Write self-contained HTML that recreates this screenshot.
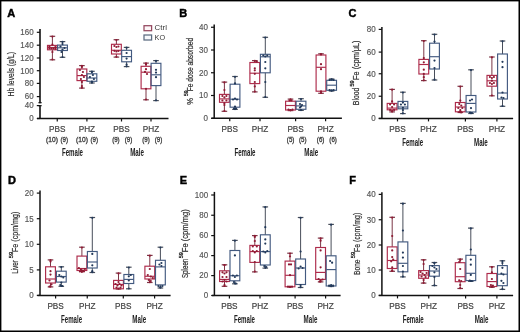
<!DOCTYPE html><html><head><meta charset="utf-8"><style>html,body{margin:0;padding:0;background:#fff;}body{width:520px;height:332px;overflow:hidden;}svg{display:block;will-change:transform;}text{font-family:"Liberation Sans", sans-serif;}</style></head><body>
<svg width="520" height="332" viewBox="0 0 520 332">
<rect x="0" y="0" width="520" height="332" fill="#ffffff"/>
<g><text x="7.2" y="17.2" font-size="11" font-weight="bold" fill="#000" stroke="#000" stroke-width="0.45">A</text><line x1="40" y1="29" x2="40" y2="103.2" stroke="#111111" stroke-width="1.6"/><line x1="40" y1="105.2" x2="40" y2="118.5" stroke="#111111" stroke-width="1.6"/><line x1="38.4" y1="102.7" x2="41.7" y2="102.7" stroke="#111111" stroke-width="1.1"/><line x1="38.4" y1="105.7" x2="41.7" y2="105.7" stroke="#111111" stroke-width="1.1"/><line x1="36.8" y1="32.3" x2="40" y2="32.3" stroke="#111111" stroke-width="1.2"/><text x="33.7" y="35.15" font-size="8.2" fill="#555555" stroke="#555" stroke-width="0.15" text-anchor="end" textLength="13.35" lengthAdjust="spacingAndGlyphs">160</text><line x1="36.8" y1="45.2" x2="40" y2="45.2" stroke="#111111" stroke-width="1.2"/><text x="33.7" y="48.05" font-size="8.2" fill="#555555" stroke="#555" stroke-width="0.15" text-anchor="end" textLength="13.35" lengthAdjust="spacingAndGlyphs">140</text><line x1="36.8" y1="58" x2="40" y2="58" stroke="#111111" stroke-width="1.2"/><text x="33.7" y="60.85" font-size="8.2" fill="#555555" stroke="#555" stroke-width="0.15" text-anchor="end" textLength="13.35" lengthAdjust="spacingAndGlyphs">120</text><line x1="36.8" y1="70.7" x2="40" y2="70.7" stroke="#111111" stroke-width="1.2"/><text x="33.7" y="73.55" font-size="8.2" fill="#555555" stroke="#555" stroke-width="0.15" text-anchor="end" textLength="13.35" lengthAdjust="spacingAndGlyphs">100</text><line x1="36.8" y1="83.4" x2="40" y2="83.4" stroke="#111111" stroke-width="1.2"/><text x="33.7" y="86.25" font-size="8.2" fill="#555555" stroke="#555" stroke-width="0.15" text-anchor="end" textLength="8.9" lengthAdjust="spacingAndGlyphs">80</text><line x1="36.8" y1="96.6" x2="40" y2="96.6" stroke="#111111" stroke-width="1.2"/><text x="33.7" y="99.45" font-size="8.2" fill="#555555" stroke="#555" stroke-width="0.15" text-anchor="end" textLength="8.9" lengthAdjust="spacingAndGlyphs">60</text><line x1="36.8" y1="105.6" x2="40" y2="105.6" stroke="#111111" stroke-width="1.2"/><text x="33.7" y="108.45" font-size="8.2" fill="#555555" stroke="#555" stroke-width="0.15" text-anchor="end" textLength="8.9" lengthAdjust="spacingAndGlyphs">40</text><line x1="36.8" y1="118.5" x2="40" y2="118.5" stroke="#111111" stroke-width="1.2"/><text x="33.7" y="121.35" font-size="8.2" fill="#555555" stroke="#555" stroke-width="0.15" text-anchor="end" textLength="4.45" lengthAdjust="spacingAndGlyphs">0</text><line x1="37" y1="118.5" x2="168.5" y2="118.5" stroke="#111111" stroke-width="1.5"/><line x1="57.25" y1="118.5" x2="57.25" y2="121.5" stroke="#111111" stroke-width="1.2"/><text x="57.25" y="131.9" font-size="8.6" fill="#4a4a4a" stroke="#3a3a3a" stroke-width="0.22" text-anchor="middle" textLength="16.4" lengthAdjust="spacingAndGlyphs">PBS</text><line x1="86.9" y1="118.5" x2="86.9" y2="121.5" stroke="#111111" stroke-width="1.2"/><text x="86.9" y="131.9" font-size="8.6" fill="#4a4a4a" stroke="#3a3a3a" stroke-width="0.22" text-anchor="middle" textLength="16.4" lengthAdjust="spacingAndGlyphs">PHZ</text><line x1="121.5" y1="118.5" x2="121.5" y2="121.5" stroke="#111111" stroke-width="1.2"/><text x="121.5" y="131.9" font-size="8.6" fill="#4a4a4a" stroke="#3a3a3a" stroke-width="0.22" text-anchor="middle" textLength="16.4" lengthAdjust="spacingAndGlyphs">PBS</text><line x1="151" y1="118.5" x2="151" y2="121.5" stroke="#111111" stroke-width="1.2"/><text x="151" y="131.9" font-size="8.6" fill="#4a4a4a" stroke="#3a3a3a" stroke-width="0.22" text-anchor="middle" textLength="16.4" lengthAdjust="spacingAndGlyphs">PHZ</text><text x="52" y="142" font-size="6.5" fill="#4a4a4a" stroke="#3a3a3a" stroke-width="0.32" text-anchor="middle" textLength="11.8" lengthAdjust="spacingAndGlyphs">(10)</text><text x="64.3" y="142" font-size="6.5" fill="#4a4a4a" stroke="#3a3a3a" stroke-width="0.32" text-anchor="middle" textLength="7.5" lengthAdjust="spacingAndGlyphs">(9)</text><text x="82" y="142" font-size="6.5" fill="#4a4a4a" stroke="#3a3a3a" stroke-width="0.32" text-anchor="middle" textLength="11.8" lengthAdjust="spacingAndGlyphs">(10)</text><text x="94.3" y="142" font-size="6.5" fill="#4a4a4a" stroke="#3a3a3a" stroke-width="0.32" text-anchor="middle" textLength="7.5" lengthAdjust="spacingAndGlyphs">(9)</text><text x="115.9" y="142" font-size="6.5" fill="#4a4a4a" stroke="#3a3a3a" stroke-width="0.32" text-anchor="middle" textLength="7.5" lengthAdjust="spacingAndGlyphs">(9)</text><text x="128.5" y="142" font-size="6.5" fill="#4a4a4a" stroke="#3a3a3a" stroke-width="0.32" text-anchor="middle" textLength="7.5" lengthAdjust="spacingAndGlyphs">(9)</text><text x="146" y="142" font-size="6.5" fill="#4a4a4a" stroke="#3a3a3a" stroke-width="0.32" text-anchor="middle" textLength="7.5" lengthAdjust="spacingAndGlyphs">(9)</text><text x="158.5" y="142" font-size="6.5" fill="#4a4a4a" stroke="#3a3a3a" stroke-width="0.32" text-anchor="middle" textLength="7.5" lengthAdjust="spacingAndGlyphs">(9)</text><text x="72.5" y="155.6" font-size="10" font-weight="bold" fill="#222" text-anchor="middle" textLength="21" lengthAdjust="spacingAndGlyphs">Female</text><text x="137.1" y="155.6" font-size="10" font-weight="bold" fill="#222" text-anchor="middle" textLength="13.8" lengthAdjust="spacingAndGlyphs">Male</text><text transform="matrix(0 -0.72 1 0 14 96.46)" font-size="9.6" fill="#2c2c2c" stroke="#2c2c2c" stroke-width="0.2">Hb levels (g/L)</text></g>
<g><text x="179.2" y="16.9" font-size="11" font-weight="bold" fill="#000" stroke="#000" stroke-width="0.45">B</text><line x1="214.2" y1="24.4" x2="214.2" y2="118.3" stroke="#111111" stroke-width="1.5"/><line x1="211" y1="27.25" x2="214.2" y2="27.25" stroke="#111111" stroke-width="1.2"/><text x="207.9" y="30.1" font-size="8.2" fill="#555555" stroke="#555" stroke-width="0.15" text-anchor="end" textLength="8.9" lengthAdjust="spacingAndGlyphs">40</text><line x1="211" y1="50" x2="214.2" y2="50" stroke="#111111" stroke-width="1.2"/><text x="207.9" y="52.85" font-size="8.2" fill="#555555" stroke="#555" stroke-width="0.15" text-anchor="end" textLength="8.9" lengthAdjust="spacingAndGlyphs">30</text><line x1="211" y1="72.75" x2="214.2" y2="72.75" stroke="#111111" stroke-width="1.2"/><text x="207.9" y="75.6" font-size="8.2" fill="#555555" stroke="#555" stroke-width="0.15" text-anchor="end" textLength="8.9" lengthAdjust="spacingAndGlyphs">20</text><line x1="211" y1="95.5" x2="214.2" y2="95.5" stroke="#111111" stroke-width="1.2"/><text x="207.9" y="98.35" font-size="8.2" fill="#555555" stroke="#555" stroke-width="0.15" text-anchor="end" textLength="8.9" lengthAdjust="spacingAndGlyphs">10</text><line x1="211" y1="118.3" x2="214.2" y2="118.3" stroke="#111111" stroke-width="1.2"/><text x="207.9" y="121.15" font-size="8.2" fill="#555555" stroke="#555" stroke-width="0.15" text-anchor="end" textLength="4.45" lengthAdjust="spacingAndGlyphs">0</text><line x1="211.5" y1="118.3" x2="341.9" y2="118.3" stroke="#111111" stroke-width="1.5"/><line x1="229.75" y1="118.3" x2="229.75" y2="121.3" stroke="#111111" stroke-width="1.2"/><text x="229.75" y="131.7" font-size="8.6" fill="#4a4a4a" stroke="#3a3a3a" stroke-width="0.22" text-anchor="middle" textLength="16.4" lengthAdjust="spacingAndGlyphs">PBS</text><line x1="260" y1="118.3" x2="260" y2="121.3" stroke="#111111" stroke-width="1.2"/><text x="260" y="131.7" font-size="8.6" fill="#4a4a4a" stroke="#3a3a3a" stroke-width="0.22" text-anchor="middle" textLength="16.4" lengthAdjust="spacingAndGlyphs">PHZ</text><line x1="295.6" y1="118.3" x2="295.6" y2="121.3" stroke="#111111" stroke-width="1.2"/><text x="295.6" y="131.7" font-size="8.6" fill="#4a4a4a" stroke="#3a3a3a" stroke-width="0.22" text-anchor="middle" textLength="16.4" lengthAdjust="spacingAndGlyphs">PBS</text><line x1="325.6" y1="118.3" x2="325.6" y2="121.3" stroke="#111111" stroke-width="1.2"/><text x="325.6" y="131.7" font-size="8.6" fill="#4a4a4a" stroke="#3a3a3a" stroke-width="0.22" text-anchor="middle" textLength="16.4" lengthAdjust="spacingAndGlyphs">PHZ</text><text x="290.6" y="141.8" font-size="6.5" fill="#4a4a4a" stroke="#3a3a3a" stroke-width="0.32" text-anchor="middle" textLength="7.5" lengthAdjust="spacingAndGlyphs">(5)</text><text x="302.8" y="141.8" font-size="6.5" fill="#4a4a4a" stroke="#3a3a3a" stroke-width="0.32" text-anchor="middle" textLength="7.5" lengthAdjust="spacingAndGlyphs">(5)</text><text x="320.6" y="141.8" font-size="6.5" fill="#4a4a4a" stroke="#3a3a3a" stroke-width="0.32" text-anchor="middle" textLength="7.5" lengthAdjust="spacingAndGlyphs">(6)</text><text x="333.1" y="141.8" font-size="6.5" fill="#4a4a4a" stroke="#3a3a3a" stroke-width="0.32" text-anchor="middle" textLength="7.5" lengthAdjust="spacingAndGlyphs">(6)</text><text x="245" y="155.5" font-size="10" font-weight="bold" fill="#222" text-anchor="middle" textLength="21" lengthAdjust="spacingAndGlyphs">Female</text><text x="311.25" y="155.5" font-size="10" font-weight="bold" fill="#222" text-anchor="middle" textLength="13.8" lengthAdjust="spacingAndGlyphs">Male</text><text transform="matrix(0 -0.8 1 0 192.5 104.87)" font-size="9.6" fill="#2c2c2c" stroke="#2c2c2c" stroke-width="0.2">%</text><text transform="matrix(0 -1.1 1 0 187.5 95.9)" font-size="4.44" fill="#2c2c2c" stroke="#2c2c2c" stroke-width="0.3">59</text><text transform="matrix(0 -0.69 1 0 192.5 91.24)" font-size="9.6" fill="#2c2c2c" stroke="#2c2c2c" stroke-width="0.2">Fe dose absorbed</text></g>
<g><text x="348.6" y="16.9" font-size="11" font-weight="bold" fill="#000" stroke="#000" stroke-width="0.45">C</text><line x1="381.9" y1="26.9" x2="381.9" y2="118.4" stroke="#111111" stroke-width="1.5"/><line x1="378.7" y1="29.4" x2="381.9" y2="29.4" stroke="#111111" stroke-width="1.2"/><text x="375.6" y="32.25" font-size="8.2" fill="#555555" stroke="#555" stroke-width="0.15" text-anchor="end" textLength="8.9" lengthAdjust="spacingAndGlyphs">80</text><line x1="378.7" y1="52.1" x2="381.9" y2="52.1" stroke="#111111" stroke-width="1.2"/><text x="375.6" y="54.95" font-size="8.2" fill="#555555" stroke="#555" stroke-width="0.15" text-anchor="end" textLength="8.9" lengthAdjust="spacingAndGlyphs">60</text><line x1="378.7" y1="73.75" x2="381.9" y2="73.75" stroke="#111111" stroke-width="1.2"/><text x="375.6" y="76.6" font-size="8.2" fill="#555555" stroke="#555" stroke-width="0.15" text-anchor="end" textLength="8.9" lengthAdjust="spacingAndGlyphs">40</text><line x1="378.7" y1="96.25" x2="381.9" y2="96.25" stroke="#111111" stroke-width="1.2"/><text x="375.6" y="99.1" font-size="8.2" fill="#555555" stroke="#555" stroke-width="0.15" text-anchor="end" textLength="8.9" lengthAdjust="spacingAndGlyphs">20</text><line x1="378.7" y1="118.4" x2="381.9" y2="118.4" stroke="#111111" stroke-width="1.2"/><text x="375.6" y="121.25" font-size="8.2" fill="#555555" stroke="#555" stroke-width="0.15" text-anchor="end" textLength="4.45" lengthAdjust="spacingAndGlyphs">0</text><line x1="378.75" y1="118.4" x2="513.1" y2="118.4" stroke="#111111" stroke-width="1.5"/><line x1="397.5" y1="118.4" x2="397.5" y2="121.4" stroke="#111111" stroke-width="1.2"/><text x="397.5" y="131.8" font-size="8.6" fill="#4a4a4a" stroke="#3a3a3a" stroke-width="0.22" text-anchor="middle" textLength="16.4" lengthAdjust="spacingAndGlyphs">PBS</text><line x1="428.5" y1="118.4" x2="428.5" y2="121.4" stroke="#111111" stroke-width="1.2"/><text x="428.5" y="131.8" font-size="8.6" fill="#4a4a4a" stroke="#3a3a3a" stroke-width="0.22" text-anchor="middle" textLength="16.4" lengthAdjust="spacingAndGlyphs">PHZ</text><line x1="465.4" y1="118.4" x2="465.4" y2="121.4" stroke="#111111" stroke-width="1.2"/><text x="465.4" y="131.8" font-size="8.6" fill="#4a4a4a" stroke="#3a3a3a" stroke-width="0.22" text-anchor="middle" textLength="16.4" lengthAdjust="spacingAndGlyphs">PBS</text><line x1="496.9" y1="118.4" x2="496.9" y2="121.4" stroke="#111111" stroke-width="1.2"/><text x="496.9" y="131.8" font-size="8.6" fill="#4a4a4a" stroke="#3a3a3a" stroke-width="0.22" text-anchor="middle" textLength="16.4" lengthAdjust="spacingAndGlyphs">PHZ</text><text x="412.7" y="145.6" font-size="10" font-weight="bold" fill="#222" text-anchor="middle" textLength="21" lengthAdjust="spacingAndGlyphs">Female</text><text x="480.9" y="145.6" font-size="10" font-weight="bold" fill="#222" text-anchor="middle" textLength="13.8" lengthAdjust="spacingAndGlyphs">Male</text><text transform="matrix(0 -0.71 1 0 359.3 105.16)" font-size="9.6" fill="#2c2c2c" stroke="#2c2c2c" stroke-width="0.2">Blood</text><text transform="matrix(0 -1.24 1 0 354.3 86.47)" font-size="4.44" fill="#2c2c2c" stroke="#2c2c2c" stroke-width="0.3">59</text><text transform="matrix(0 -0.76 1 0 359.3 79.9)" font-size="9.6" fill="#2c2c2c" stroke="#2c2c2c" stroke-width="0.2">Fe (cpm/μL)</text></g>
<g><text x="8" y="183.7" font-size="11" font-weight="bold" fill="#000" stroke="#000" stroke-width="0.45">D</text><line x1="40" y1="190.6" x2="40" y2="295.4" stroke="#111111" stroke-width="1.5"/><line x1="36.8" y1="193.1" x2="40" y2="193.1" stroke="#111111" stroke-width="1.2"/><text x="33.7" y="195.95" font-size="8.2" fill="#555555" stroke="#555" stroke-width="0.15" text-anchor="end" textLength="8.9" lengthAdjust="spacingAndGlyphs">20</text><line x1="36.8" y1="218.7" x2="40" y2="218.7" stroke="#111111" stroke-width="1.2"/><text x="33.7" y="221.55" font-size="8.2" fill="#555555" stroke="#555" stroke-width="0.15" text-anchor="end" textLength="8.9" lengthAdjust="spacingAndGlyphs">15</text><line x1="36.8" y1="244.3" x2="40" y2="244.3" stroke="#111111" stroke-width="1.2"/><text x="33.7" y="247.15" font-size="8.2" fill="#555555" stroke="#555" stroke-width="0.15" text-anchor="end" textLength="8.9" lengthAdjust="spacingAndGlyphs">10</text><line x1="36.8" y1="269.9" x2="40" y2="269.9" stroke="#111111" stroke-width="1.2"/><text x="33.7" y="272.75" font-size="8.2" fill="#555555" stroke="#555" stroke-width="0.15" text-anchor="end" textLength="4.45" lengthAdjust="spacingAndGlyphs">5</text><line x1="36.8" y1="295.4" x2="40" y2="295.4" stroke="#111111" stroke-width="1.2"/><text x="33.7" y="298.25" font-size="8.2" fill="#555555" stroke="#555" stroke-width="0.15" text-anchor="end" textLength="4.45" lengthAdjust="spacingAndGlyphs">0</text><line x1="37.5" y1="295.4" x2="170.6" y2="295.4" stroke="#111111" stroke-width="1.5"/><line x1="55.6" y1="295.4" x2="55.6" y2="298.4" stroke="#111111" stroke-width="1.2"/><text x="55.6" y="308.8" font-size="8.6" fill="#4a4a4a" stroke="#3a3a3a" stroke-width="0.22" text-anchor="middle" textLength="16.4" lengthAdjust="spacingAndGlyphs">PBS</text><line x1="87.25" y1="295.4" x2="87.25" y2="298.4" stroke="#111111" stroke-width="1.2"/><text x="87.25" y="308.8" font-size="8.6" fill="#4a4a4a" stroke="#3a3a3a" stroke-width="0.22" text-anchor="middle" textLength="16.4" lengthAdjust="spacingAndGlyphs">PHZ</text><line x1="123.3" y1="295.4" x2="123.3" y2="298.4" stroke="#111111" stroke-width="1.2"/><text x="123.3" y="308.8" font-size="8.6" fill="#4a4a4a" stroke="#3a3a3a" stroke-width="0.22" text-anchor="middle" textLength="16.4" lengthAdjust="spacingAndGlyphs">PBS</text><line x1="154.6" y1="295.4" x2="154.6" y2="298.4" stroke="#111111" stroke-width="1.2"/><text x="154.6" y="308.8" font-size="8.6" fill="#4a4a4a" stroke="#3a3a3a" stroke-width="0.22" text-anchor="middle" textLength="16.4" lengthAdjust="spacingAndGlyphs">PHZ</text><text x="71.6" y="323.2" font-size="10" font-weight="bold" fill="#222" text-anchor="middle" textLength="21" lengthAdjust="spacingAndGlyphs">Female</text><text x="139.25" y="323.2" font-size="10" font-weight="bold" fill="#222" text-anchor="middle" textLength="13.8" lengthAdjust="spacingAndGlyphs">Male</text><text transform="matrix(0 -0.66 1 0 18.4 273.82)" font-size="9.6" fill="#2c2c2c" stroke="#2c2c2c" stroke-width="0.2">Liver</text><text transform="matrix(0 -1.27 1 0 13.4 258.23)" font-size="4.44" fill="#2c2c2c" stroke="#2c2c2c" stroke-width="0.3">59</text><text transform="matrix(0 -0.74 1 0 18.4 251.98)" font-size="9.6" fill="#2c2c2c" stroke="#2c2c2c" stroke-width="0.2">Fe (cpm/mg)</text></g>
<g><text x="179.8" y="183.7" font-size="11" font-weight="bold" fill="#000" stroke="#000" stroke-width="0.45">E</text><line x1="214.4" y1="191.9" x2="214.4" y2="295.5" stroke="#111111" stroke-width="1.5"/><line x1="211.2" y1="195" x2="214.4" y2="195" stroke="#111111" stroke-width="1.2"/><text x="208.1" y="197.85" font-size="8.2" fill="#555555" stroke="#555" stroke-width="0.15" text-anchor="end" textLength="13.35" lengthAdjust="spacingAndGlyphs">100</text><line x1="211.2" y1="215.25" x2="214.4" y2="215.25" stroke="#111111" stroke-width="1.2"/><text x="208.1" y="218.1" font-size="8.2" fill="#555555" stroke="#555" stroke-width="0.15" text-anchor="end" textLength="8.9" lengthAdjust="spacingAndGlyphs">80</text><line x1="211.2" y1="235.6" x2="214.4" y2="235.6" stroke="#111111" stroke-width="1.2"/><text x="208.1" y="238.45" font-size="8.2" fill="#555555" stroke="#555" stroke-width="0.15" text-anchor="end" textLength="8.9" lengthAdjust="spacingAndGlyphs">60</text><line x1="211.2" y1="255.6" x2="214.4" y2="255.6" stroke="#111111" stroke-width="1.2"/><text x="208.1" y="258.45" font-size="8.2" fill="#555555" stroke="#555" stroke-width="0.15" text-anchor="end" textLength="8.9" lengthAdjust="spacingAndGlyphs">40</text><line x1="211.2" y1="275.6" x2="214.4" y2="275.6" stroke="#111111" stroke-width="1.2"/><text x="208.1" y="278.45" font-size="8.2" fill="#555555" stroke="#555" stroke-width="0.15" text-anchor="end" textLength="8.9" lengthAdjust="spacingAndGlyphs">20</text><line x1="211.2" y1="295.5" x2="214.4" y2="295.5" stroke="#111111" stroke-width="1.2"/><text x="208.1" y="298.35" font-size="8.2" fill="#555555" stroke="#555" stroke-width="0.15" text-anchor="end" textLength="4.45" lengthAdjust="spacingAndGlyphs">0</text><line x1="211.9" y1="295.5" x2="340.6" y2="295.5" stroke="#111111" stroke-width="1.5"/><line x1="229.4" y1="295.5" x2="229.4" y2="298.5" stroke="#111111" stroke-width="1.2"/><text x="229.4" y="308.9" font-size="8.6" fill="#4a4a4a" stroke="#3a3a3a" stroke-width="0.22" text-anchor="middle" textLength="16.4" lengthAdjust="spacingAndGlyphs">PBS</text><line x1="260" y1="295.5" x2="260" y2="298.5" stroke="#111111" stroke-width="1.2"/><text x="260" y="308.9" font-size="8.6" fill="#4a4a4a" stroke="#3a3a3a" stroke-width="0.22" text-anchor="middle" textLength="16.4" lengthAdjust="spacingAndGlyphs">PHZ</text><line x1="295.1" y1="295.5" x2="295.1" y2="298.5" stroke="#111111" stroke-width="1.2"/><text x="295.1" y="308.9" font-size="8.6" fill="#4a4a4a" stroke="#3a3a3a" stroke-width="0.22" text-anchor="middle" textLength="16.4" lengthAdjust="spacingAndGlyphs">PBS</text><line x1="325.6" y1="295.5" x2="325.6" y2="298.5" stroke="#111111" stroke-width="1.2"/><text x="325.6" y="308.9" font-size="8.6" fill="#4a4a4a" stroke="#3a3a3a" stroke-width="0.22" text-anchor="middle" textLength="16.4" lengthAdjust="spacingAndGlyphs">PHZ</text><text x="244.5" y="323.2" font-size="10" font-weight="bold" fill="#222" text-anchor="middle" textLength="21" lengthAdjust="spacingAndGlyphs">Female</text><text x="310.5" y="323.2" font-size="10" font-weight="bold" fill="#222" text-anchor="middle" textLength="13.8" lengthAdjust="spacingAndGlyphs">Male</text><text transform="matrix(0 -0.65 1 0 187.8 278.08)" font-size="9.6" fill="#2c2c2c" stroke="#2c2c2c" stroke-width="0.2">Spleen</text><text transform="matrix(0 -1.23 1 0 182.8 258.22)" font-size="4.44" fill="#2c2c2c" stroke="#2c2c2c" stroke-width="0.3">59</text><text transform="matrix(0 -0.79 1 0 187.8 252.22)" font-size="9.6" fill="#2c2c2c" stroke="#2c2c2c" stroke-width="0.2">Fe (cpm/mg)</text></g>
<g><text x="349.2" y="183.7" font-size="11" font-weight="bold" fill="#000" stroke="#000" stroke-width="0.45">F</text><line x1="381.9" y1="192.25" x2="381.9" y2="295.4" stroke="#111111" stroke-width="1.5"/><line x1="378.7" y1="194.4" x2="381.9" y2="194.4" stroke="#111111" stroke-width="1.2"/><text x="375.6" y="197.25" font-size="8.2" fill="#555555" stroke="#555" stroke-width="0.15" text-anchor="end" textLength="8.9" lengthAdjust="spacingAndGlyphs">40</text><line x1="378.7" y1="219.75" x2="381.9" y2="219.75" stroke="#111111" stroke-width="1.2"/><text x="375.6" y="222.6" font-size="8.2" fill="#555555" stroke="#555" stroke-width="0.15" text-anchor="end" textLength="8.9" lengthAdjust="spacingAndGlyphs">30</text><line x1="378.7" y1="245" x2="381.9" y2="245" stroke="#111111" stroke-width="1.2"/><text x="375.6" y="247.85" font-size="8.2" fill="#555555" stroke="#555" stroke-width="0.15" text-anchor="end" textLength="8.9" lengthAdjust="spacingAndGlyphs">20</text><line x1="378.7" y1="270" x2="381.9" y2="270" stroke="#111111" stroke-width="1.2"/><text x="375.6" y="272.85" font-size="8.2" fill="#555555" stroke="#555" stroke-width="0.15" text-anchor="end" textLength="8.9" lengthAdjust="spacingAndGlyphs">10</text><line x1="378.7" y1="295.4" x2="381.9" y2="295.4" stroke="#111111" stroke-width="1.2"/><text x="375.6" y="298.25" font-size="8.2" fill="#555555" stroke="#555" stroke-width="0.15" text-anchor="end" textLength="4.45" lengthAdjust="spacingAndGlyphs">0</text><line x1="378.75" y1="295.4" x2="513.1" y2="295.4" stroke="#111111" stroke-width="1.5"/><line x1="397.5" y1="295.4" x2="397.5" y2="298.4" stroke="#111111" stroke-width="1.2"/><text x="397.5" y="308.8" font-size="8.6" fill="#4a4a4a" stroke="#3a3a3a" stroke-width="0.22" text-anchor="middle" textLength="16.4" lengthAdjust="spacingAndGlyphs">PBS</text><line x1="428.75" y1="295.4" x2="428.75" y2="298.4" stroke="#111111" stroke-width="1.2"/><text x="428.75" y="308.8" font-size="8.6" fill="#4a4a4a" stroke="#3a3a3a" stroke-width="0.22" text-anchor="middle" textLength="16.4" lengthAdjust="spacingAndGlyphs">PHZ</text><line x1="465.6" y1="295.4" x2="465.6" y2="298.4" stroke="#111111" stroke-width="1.2"/><text x="465.6" y="308.8" font-size="8.6" fill="#4a4a4a" stroke="#3a3a3a" stroke-width="0.22" text-anchor="middle" textLength="16.4" lengthAdjust="spacingAndGlyphs">PBS</text><line x1="496.9" y1="295.4" x2="496.9" y2="298.4" stroke="#111111" stroke-width="1.2"/><text x="496.9" y="308.8" font-size="8.6" fill="#4a4a4a" stroke="#3a3a3a" stroke-width="0.22" text-anchor="middle" textLength="16.4" lengthAdjust="spacingAndGlyphs">PHZ</text><text x="413.25" y="323.2" font-size="10" font-weight="bold" fill="#222" text-anchor="middle" textLength="21" lengthAdjust="spacingAndGlyphs">Female</text><text x="481.6" y="323.2" font-size="10" font-weight="bold" fill="#222" text-anchor="middle" textLength="13.8" lengthAdjust="spacingAndGlyphs">Male</text><text transform="matrix(0 -0.69 1 0 359.7 274.94)" font-size="9.6" fill="#2c2c2c" stroke="#2c2c2c" stroke-width="0.2">Bone</text><text transform="matrix(0 -1.27 1 0 354.7 258.23)" font-size="4.44" fill="#2c2c2c" stroke="#2c2c2c" stroke-width="0.3">59</text><text transform="matrix(0 -0.72 1 0 359.7 251.97)" font-size="9.6" fill="#2c2c2c" stroke="#2c2c2c" stroke-width="0.2">Fe (cpm/mg)</text></g>
<rect x="144.0" y="25.7" width="7.6" height="5.0" fill="#fdf6f8" stroke="#94485f" stroke-width="1.25"/>
<rect x="144.0" y="35.0" width="7.6" height="5.0" fill="#f6f8fb" stroke="#5c6c80" stroke-width="1.25"/>
<text x="154.6" y="30.0" font-size="7.4" fill="#383838" textLength="12.3" lengthAdjust="spacingAndGlyphs">Ctrl</text>
<text x="154.6" y="39.5" font-size="7.4" fill="#383838" textLength="10.5" lengthAdjust="spacingAndGlyphs">KO</text>
<g><line x1="52.4" y1="36.3" x2="52.4" y2="45.4" stroke="#7c3646" stroke-width="1.0"/><line x1="52.4" y1="49.8" x2="52.4" y2="59.8" stroke="#7c3646" stroke-width="1.0"/><line x1="49.6" y1="36.3" x2="55.2" y2="36.3" stroke="#7c3646" stroke-width="1.2"/><line x1="49.6" y1="59.8" x2="55.2" y2="59.8" stroke="#7c3646" stroke-width="1.2"/><rect x="47.5" y="45.4" width="9.8" height="4.4" fill="none" stroke="#ad2a4a" stroke-width="1.15"/><line x1="47.5" y1="47.5" x2="57.3" y2="47.5" stroke="#ad2a4a" stroke-width="1.15"/><circle cx="52.4" cy="44.5" r="1.1" fill="#8f1a33"/><circle cx="49.4" cy="46.5" r="1.1" fill="#8f1a33"/><circle cx="55.4" cy="47" r="1.1" fill="#8f1a33"/><circle cx="51.4" cy="48.5" r="1.1" fill="#8f1a33"/><circle cx="53.4" cy="48.5" r="1.1" fill="#8f1a33"/><circle cx="49.4" cy="48.5" r="1.1" fill="#8f1a33"/><circle cx="55.4" cy="48.8" r="1.1" fill="#8f1a33"/><circle cx="52.4" cy="52" r="1.1" fill="#8f1a33"/><circle cx="52.4" cy="36.6" r="1.1" fill="#8f1a33"/><circle cx="52.4" cy="59.5" r="1.1" fill="#8f1a33"/></g>
<g><line x1="62.5" y1="41.6" x2="62.5" y2="45.1" stroke="#484e5a" stroke-width="1.0"/><line x1="62.5" y1="50.5" x2="62.5" y2="57.3" stroke="#484e5a" stroke-width="1.0"/><line x1="59.7" y1="41.6" x2="65.3" y2="41.6" stroke="#484e5a" stroke-width="1.2"/><line x1="59.7" y1="57.3" x2="65.3" y2="57.3" stroke="#484e5a" stroke-width="1.2"/><rect x="57.6" y="45.1" width="9.8" height="5.4" fill="none" stroke="#435a80" stroke-width="1.15"/><line x1="57.6" y1="47.8" x2="67.4" y2="47.8" stroke="#435a80" stroke-width="1.15"/><circle cx="62.5" cy="44" r="1.1" fill="#22395a"/><circle cx="60.5" cy="46.5" r="1.1" fill="#22395a"/><circle cx="64.5" cy="48" r="1.1" fill="#22395a"/><circle cx="62.5" cy="49.5" r="1.1" fill="#22395a"/><circle cx="61.5" cy="52" r="1.1" fill="#22395a"/><circle cx="62.5" cy="41.9" r="1.1" fill="#22395a"/><circle cx="62.5" cy="57" r="1.1" fill="#22395a"/></g>
<g><line x1="81.9" y1="65.6" x2="81.9" y2="69" stroke="#7c3646" stroke-width="1.0"/><line x1="81.9" y1="80.6" x2="81.9" y2="88.1" stroke="#7c3646" stroke-width="1.0"/><line x1="79.1" y1="65.6" x2="84.7" y2="65.6" stroke="#7c3646" stroke-width="1.2"/><line x1="79.1" y1="88.1" x2="84.7" y2="88.1" stroke="#7c3646" stroke-width="1.2"/><rect x="77" y="69" width="9.8" height="11.6" fill="none" stroke="#ad2a4a" stroke-width="1.15"/><line x1="77" y1="75.6" x2="86.8" y2="75.6" stroke="#ad2a4a" stroke-width="1.15"/><circle cx="81.9" cy="67" r="1.1" fill="#8f1a33"/><circle cx="79.9" cy="70" r="1.1" fill="#8f1a33"/><circle cx="82.9" cy="72" r="1.1" fill="#8f1a33"/><circle cx="81.9" cy="75" r="1.1" fill="#8f1a33"/><circle cx="83.9" cy="77" r="1.1" fill="#8f1a33"/><circle cx="80.9" cy="79" r="1.1" fill="#8f1a33"/><circle cx="81.9" cy="82" r="1.1" fill="#8f1a33"/><circle cx="81.9" cy="86" r="1.1" fill="#8f1a33"/><circle cx="81.9" cy="65.9" r="1.1" fill="#8f1a33"/><circle cx="81.9" cy="87.8" r="1.1" fill="#8f1a33"/></g>
<g><line x1="91.9" y1="71.3" x2="91.9" y2="73.8" stroke="#484e5a" stroke-width="1.0"/><line x1="91.9" y1="81.3" x2="91.9" y2="83" stroke="#484e5a" stroke-width="1.0"/><line x1="89.1" y1="71.3" x2="94.7" y2="71.3" stroke="#484e5a" stroke-width="1.2"/><line x1="89.1" y1="83" x2="94.7" y2="83" stroke="#484e5a" stroke-width="1.2"/><rect x="87" y="73.8" width="9.8" height="7.5" fill="none" stroke="#435a80" stroke-width="1.15"/><line x1="87" y1="78" x2="96.8" y2="78" stroke="#435a80" stroke-width="1.15"/><circle cx="91.9" cy="72" r="1.1" fill="#22395a"/><circle cx="92.9" cy="75" r="1.1" fill="#22395a"/><circle cx="89.9" cy="77" r="1.1" fill="#22395a"/><circle cx="93.9" cy="79" r="1.1" fill="#22395a"/><circle cx="91.9" cy="81.5" r="1.1" fill="#22395a"/><circle cx="91.9" cy="71.6" r="1.1" fill="#22395a"/><circle cx="91.9" cy="82.7" r="1.1" fill="#22395a"/></g>
<g><line x1="116.4" y1="39.7" x2="116.4" y2="44.3" stroke="#7c3646" stroke-width="1.0"/><line x1="116.4" y1="54" x2="116.4" y2="57.1" stroke="#7c3646" stroke-width="1.0"/><line x1="113.6" y1="39.7" x2="119.2" y2="39.7" stroke="#7c3646" stroke-width="1.2"/><line x1="113.6" y1="57.1" x2="119.2" y2="57.1" stroke="#7c3646" stroke-width="1.2"/><rect x="111.5" y="44.3" width="9.8" height="9.7" fill="none" stroke="#ad2a4a" stroke-width="1.15"/><line x1="111.5" y1="50.3" x2="121.3" y2="50.3" stroke="#ad2a4a" stroke-width="1.15"/><circle cx="114.4" cy="46" r="1.1" fill="#8f1a33"/><circle cx="116.4" cy="47" r="1.1" fill="#8f1a33"/><circle cx="118.4" cy="46.5" r="1.1" fill="#8f1a33"/><circle cx="114.4" cy="50.8" r="1.1" fill="#8f1a33"/><circle cx="116.4" cy="51.5" r="1.1" fill="#8f1a33"/><circle cx="118.4" cy="51" r="1.1" fill="#8f1a33"/><circle cx="116.4" cy="40" r="1.1" fill="#8f1a33"/><circle cx="116.4" cy="56.8" r="1.1" fill="#8f1a33"/></g>
<g><line x1="126.6" y1="47.4" x2="126.6" y2="50.3" stroke="#484e5a" stroke-width="1.0"/><line x1="126.6" y1="61.8" x2="126.6" y2="66.6" stroke="#484e5a" stroke-width="1.0"/><line x1="123.8" y1="47.4" x2="129.4" y2="47.4" stroke="#484e5a" stroke-width="1.2"/><line x1="123.8" y1="66.6" x2="129.4" y2="66.6" stroke="#484e5a" stroke-width="1.2"/><rect x="121.7" y="50.3" width="9.8" height="11.5" fill="none" stroke="#435a80" stroke-width="1.15"/><line x1="121.7" y1="56.6" x2="131.5" y2="56.6" stroke="#435a80" stroke-width="1.15"/><circle cx="126.6" cy="53" r="1.1" fill="#22395a"/><circle cx="126.6" cy="58.6" r="1.1" fill="#22395a"/><circle cx="126.6" cy="64.5" r="1.1" fill="#22395a"/><circle cx="126.6" cy="47.7" r="1.1" fill="#22395a"/><circle cx="126.6" cy="66.3" r="1.1" fill="#22395a"/></g>
<g><line x1="146" y1="63.1" x2="146" y2="66.3" stroke="#7c3646" stroke-width="1.0"/><line x1="146" y1="88.8" x2="146" y2="99.8" stroke="#7c3646" stroke-width="1.0"/><line x1="143.2" y1="63.1" x2="148.8" y2="63.1" stroke="#7c3646" stroke-width="1.2"/><line x1="143.2" y1="99.8" x2="148.8" y2="99.8" stroke="#7c3646" stroke-width="1.2"/><rect x="141.1" y="66.3" width="9.8" height="22.5" fill="none" stroke="#ad2a4a" stroke-width="1.15"/><line x1="141.1" y1="72.2" x2="150.9" y2="72.2" stroke="#ad2a4a" stroke-width="1.15"/><circle cx="146" cy="64.5" r="1.1" fill="#8f1a33"/><circle cx="146" cy="69.2" r="1.1" fill="#8f1a33"/><circle cx="145" cy="71.9" r="1.1" fill="#8f1a33"/><circle cx="147" cy="74" r="1.1" fill="#8f1a33"/><circle cx="146" cy="88.8" r="1.1" fill="#8f1a33"/><circle cx="146" cy="63.4" r="1.1" fill="#8f1a33"/><circle cx="146" cy="99.5" r="1.1" fill="#8f1a33"/></g>
<g><line x1="156" y1="60.6" x2="156" y2="63.3" stroke="#484e5a" stroke-width="1.0"/><line x1="156" y1="85.6" x2="156" y2="100.6" stroke="#484e5a" stroke-width="1.0"/><line x1="153.2" y1="60.6" x2="158.8" y2="60.6" stroke="#484e5a" stroke-width="1.2"/><line x1="153.2" y1="100.6" x2="158.8" y2="100.6" stroke="#484e5a" stroke-width="1.2"/><rect x="151.1" y="63.3" width="9.8" height="22.3" fill="none" stroke="#435a80" stroke-width="1.15"/><line x1="151.1" y1="74.8" x2="160.9" y2="74.8" stroke="#435a80" stroke-width="1.15"/><circle cx="156" cy="69.8" r="1.1" fill="#22395a"/><circle cx="156" cy="72.6" r="1.1" fill="#22395a"/><circle cx="156" cy="77.2" r="1.1" fill="#22395a"/><circle cx="156" cy="60.9" r="1.1" fill="#22395a"/><circle cx="156" cy="100.3" r="1.1" fill="#22395a"/></g>
<g><line x1="224.4" y1="82.1" x2="224.4" y2="94.4" stroke="#7c3646" stroke-width="1.0"/><line x1="224.4" y1="102.3" x2="224.4" y2="111.3" stroke="#7c3646" stroke-width="1.0"/><line x1="221.6" y1="82.1" x2="227.2" y2="82.1" stroke="#7c3646" stroke-width="1.2"/><line x1="221.6" y1="111.3" x2="227.2" y2="111.3" stroke="#7c3646" stroke-width="1.2"/><rect x="219.5" y="94.4" width="9.8" height="7.9" fill="none" stroke="#ad2a4a" stroke-width="1.15"/><line x1="219.5" y1="98.9" x2="229.3" y2="98.9" stroke="#ad2a4a" stroke-width="1.15"/><circle cx="224.4" cy="90" r="1.1" fill="#8f1a33"/><circle cx="222.4" cy="96" r="1.1" fill="#8f1a33"/><circle cx="224.4" cy="97.3" r="1.1" fill="#8f1a33"/><circle cx="226.4" cy="96" r="1.1" fill="#8f1a33"/><circle cx="222.4" cy="100.5" r="1.1" fill="#8f1a33"/><circle cx="226.4" cy="100.5" r="1.1" fill="#8f1a33"/><circle cx="224.4" cy="103.3" r="1.1" fill="#8f1a33"/><circle cx="224.4" cy="105" r="1.1" fill="#8f1a33"/><circle cx="224.4" cy="82.4" r="1.1" fill="#8f1a33"/><circle cx="224.4" cy="111" r="1.1" fill="#8f1a33"/></g>
<g><line x1="235" y1="76.5" x2="235" y2="84.2" stroke="#484e5a" stroke-width="1.0"/><line x1="235" y1="107.2" x2="235" y2="109.4" stroke="#484e5a" stroke-width="1.0"/><line x1="232.2" y1="76.5" x2="237.8" y2="76.5" stroke="#484e5a" stroke-width="1.2"/><line x1="232.2" y1="109.4" x2="237.8" y2="109.4" stroke="#484e5a" stroke-width="1.2"/><rect x="230.1" y="84.2" width="9.8" height="23" fill="none" stroke="#435a80" stroke-width="1.15"/><line x1="230.1" y1="99.2" x2="239.9" y2="99.2" stroke="#435a80" stroke-width="1.15"/><circle cx="235" cy="83.4" r="1.1" fill="#22395a"/><circle cx="233" cy="99.5" r="1.1" fill="#22395a"/><circle cx="235" cy="98.5" r="1.1" fill="#22395a"/><circle cx="237" cy="99.5" r="1.1" fill="#22395a"/><circle cx="235" cy="106.6" r="1.1" fill="#22395a"/><circle cx="236" cy="108.5" r="1.1" fill="#22395a"/><circle cx="234" cy="108.5" r="1.1" fill="#22395a"/><circle cx="235" cy="76.8" r="1.1" fill="#22395a"/><circle cx="235" cy="109.1" r="1.1" fill="#22395a"/></g>
<g><line x1="254.8" y1="60.6" x2="254.8" y2="62.5" stroke="#7c3646" stroke-width="1.0"/><line x1="254.8" y1="83.6" x2="254.8" y2="91.9" stroke="#7c3646" stroke-width="1.0"/><line x1="252" y1="60.6" x2="257.6" y2="60.6" stroke="#7c3646" stroke-width="1.2"/><line x1="252" y1="91.9" x2="257.6" y2="91.9" stroke="#7c3646" stroke-width="1.2"/><rect x="249.9" y="62.5" width="9.8" height="21.1" fill="none" stroke="#ad2a4a" stroke-width="1.15"/><line x1="249.9" y1="73.2" x2="259.7" y2="73.2" stroke="#ad2a4a" stroke-width="1.15"/><circle cx="256.8" cy="61.5" r="1.1" fill="#8f1a33"/><circle cx="254.8" cy="68.3" r="1.1" fill="#8f1a33"/><circle cx="254.8" cy="70.3" r="1.1" fill="#8f1a33"/><circle cx="254.8" cy="73.8" r="1.1" fill="#8f1a33"/><circle cx="254.8" cy="82" r="1.1" fill="#8f1a33"/><circle cx="254.8" cy="86.4" r="1.1" fill="#8f1a33"/><circle cx="254.8" cy="60.9" r="1.1" fill="#8f1a33"/><circle cx="254.8" cy="91.6" r="1.1" fill="#8f1a33"/></g>
<g><line x1="265.3" y1="37.3" x2="265.3" y2="54.3" stroke="#484e5a" stroke-width="1.0"/><line x1="265.3" y1="72.8" x2="265.3" y2="97.3" stroke="#484e5a" stroke-width="1.0"/><line x1="262.5" y1="37.3" x2="268.1" y2="37.3" stroke="#484e5a" stroke-width="1.2"/><line x1="262.5" y1="97.3" x2="268.1" y2="97.3" stroke="#484e5a" stroke-width="1.2"/><rect x="260.4" y="54.3" width="9.8" height="18.5" fill="none" stroke="#435a80" stroke-width="1.15"/><line x1="260.4" y1="56.8" x2="270.2" y2="56.8" stroke="#435a80" stroke-width="1.15"/><circle cx="263.3" cy="55.5" r="1.1" fill="#22395a"/><circle cx="265.3" cy="56.5" r="1.1" fill="#22395a"/><circle cx="267.3" cy="55.5" r="1.1" fill="#22395a"/><circle cx="265.3" cy="62" r="1.1" fill="#22395a"/><circle cx="265.3" cy="68.3" r="1.1" fill="#22395a"/><circle cx="265.3" cy="82" r="1.1" fill="#22395a"/><circle cx="265.3" cy="37.6" r="1.1" fill="#22395a"/><circle cx="265.3" cy="97" r="1.1" fill="#22395a"/></g>
<g><line x1="290.5" y1="99.1" x2="290.5" y2="101.2" stroke="#7c3646" stroke-width="1.0"/><line x1="290.5" y1="110" x2="290.5" y2="110.6" stroke="#7c3646" stroke-width="1.0"/><line x1="287.7" y1="99.1" x2="293.3" y2="99.1" stroke="#7c3646" stroke-width="1.2"/><line x1="287.7" y1="110.6" x2="293.3" y2="110.6" stroke="#7c3646" stroke-width="1.2"/><rect x="285.6" y="101.2" width="9.8" height="8.8" fill="none" stroke="#ad2a4a" stroke-width="1.15"/><line x1="285.6" y1="105.5" x2="295.4" y2="105.5" stroke="#ad2a4a" stroke-width="1.15"/><circle cx="289.5" cy="100.5" r="1.1" fill="#8f1a33"/><circle cx="291.5" cy="100.5" r="1.1" fill="#8f1a33"/><circle cx="288.5" cy="109.5" r="1.1" fill="#8f1a33"/><circle cx="290.5" cy="110" r="1.1" fill="#8f1a33"/><circle cx="292.5" cy="109.5" r="1.1" fill="#8f1a33"/><circle cx="290.5" cy="99.4" r="1.1" fill="#8f1a33"/><circle cx="290.5" cy="110.3" r="1.1" fill="#8f1a33"/></g>
<g><line x1="301" y1="98.7" x2="301" y2="101.2" stroke="#484e5a" stroke-width="1.0"/><line x1="301" y1="109.3" x2="301" y2="110.4" stroke="#484e5a" stroke-width="1.0"/><line x1="298.2" y1="98.7" x2="303.8" y2="98.7" stroke="#484e5a" stroke-width="1.2"/><line x1="298.2" y1="110.4" x2="303.8" y2="110.4" stroke="#484e5a" stroke-width="1.2"/><rect x="296.1" y="101.2" width="9.8" height="8.1" fill="none" stroke="#435a80" stroke-width="1.15"/><line x1="296.1" y1="105.9" x2="305.9" y2="105.9" stroke="#435a80" stroke-width="1.15"/><circle cx="300" cy="104" r="1.1" fill="#22395a"/><circle cx="302" cy="105" r="1.1" fill="#22395a"/><circle cx="301" cy="106.5" r="1.1" fill="#22395a"/><circle cx="300" cy="107.5" r="1.1" fill="#22395a"/><circle cx="301" cy="99" r="1.1" fill="#22395a"/><circle cx="301" cy="110.1" r="1.1" fill="#22395a"/></g>
<g><line x1="321" y1="53.8" x2="321" y2="55" stroke="#7c3646" stroke-width="1.0"/><line x1="321" y1="91.2" x2="321" y2="93.3" stroke="#7c3646" stroke-width="1.0"/><line x1="318.2" y1="53.8" x2="323.8" y2="53.8" stroke="#7c3646" stroke-width="1.2"/><line x1="318.2" y1="93.3" x2="323.8" y2="93.3" stroke="#7c3646" stroke-width="1.2"/><rect x="316.1" y="55" width="9.8" height="36.2" fill="none" stroke="#ad2a4a" stroke-width="1.15"/><line x1="316.1" y1="67.3" x2="325.9" y2="67.3" stroke="#ad2a4a" stroke-width="1.15"/><circle cx="321" cy="54.5" r="1.1" fill="#8f1a33"/><circle cx="321" cy="64.2" r="1.1" fill="#8f1a33"/><circle cx="321" cy="69.2" r="1.1" fill="#8f1a33"/><circle cx="321" cy="91.4" r="1.1" fill="#8f1a33"/><circle cx="321" cy="54.1" r="1.1" fill="#8f1a33"/><circle cx="321" cy="93" r="1.1" fill="#8f1a33"/></g>
<g><line x1="331.6" y1="79" x2="331.6" y2="80.3" stroke="#484e5a" stroke-width="1.0"/><line x1="331.6" y1="90.3" x2="331.6" y2="91" stroke="#484e5a" stroke-width="1.0"/><line x1="328.8" y1="79" x2="334.4" y2="79" stroke="#484e5a" stroke-width="1.2"/><line x1="328.8" y1="91" x2="334.4" y2="91" stroke="#484e5a" stroke-width="1.2"/><rect x="326.7" y="80.3" width="9.8" height="10" fill="none" stroke="#435a80" stroke-width="1.15"/><line x1="326.7" y1="85.2" x2="336.5" y2="85.2" stroke="#435a80" stroke-width="1.15"/><circle cx="329.6" cy="80" r="1.1" fill="#22395a"/><circle cx="331.6" cy="79.5" r="1.1" fill="#22395a"/><circle cx="333.6" cy="80" r="1.1" fill="#22395a"/><circle cx="329.6" cy="90" r="1.1" fill="#22395a"/><circle cx="331.6" cy="90.5" r="1.1" fill="#22395a"/><circle cx="333.6" cy="90" r="1.1" fill="#22395a"/><circle cx="331.6" cy="79.3" r="1.1" fill="#22395a"/><circle cx="331.6" cy="90.7" r="1.1" fill="#22395a"/></g>
<g><line x1="392.1" y1="89.4" x2="392.1" y2="103.4" stroke="#7c3646" stroke-width="1.0"/><line x1="392.1" y1="109.8" x2="392.1" y2="111.9" stroke="#7c3646" stroke-width="1.0"/><line x1="389.3" y1="89.4" x2="394.9" y2="89.4" stroke="#7c3646" stroke-width="1.2"/><line x1="389.3" y1="111.9" x2="394.9" y2="111.9" stroke="#7c3646" stroke-width="1.2"/><rect x="387.2" y="103.4" width="9.8" height="6.4" fill="none" stroke="#ad2a4a" stroke-width="1.15"/><line x1="387.2" y1="108.1" x2="397" y2="108.1" stroke="#ad2a4a" stroke-width="1.15"/><circle cx="392.1" cy="101.4" r="1.1" fill="#8f1a33"/><circle cx="390.1" cy="104.5" r="1.1" fill="#8f1a33"/><circle cx="394.1" cy="104.5" r="1.1" fill="#8f1a33"/><circle cx="392.1" cy="107" r="1.1" fill="#8f1a33"/><circle cx="390.1" cy="110" r="1.1" fill="#8f1a33"/><circle cx="392.1" cy="111" r="1.1" fill="#8f1a33"/><circle cx="394.1" cy="110" r="1.1" fill="#8f1a33"/><circle cx="392.1" cy="89.7" r="1.1" fill="#8f1a33"/><circle cx="392.1" cy="111.6" r="1.1" fill="#8f1a33"/></g>
<g><line x1="402.9" y1="92.2" x2="402.9" y2="101.4" stroke="#484e5a" stroke-width="1.0"/><line x1="402.9" y1="108.8" x2="402.9" y2="113.6" stroke="#484e5a" stroke-width="1.0"/><line x1="400.1" y1="92.2" x2="405.7" y2="92.2" stroke="#484e5a" stroke-width="1.2"/><line x1="400.1" y1="113.6" x2="405.7" y2="113.6" stroke="#484e5a" stroke-width="1.2"/><rect x="398" y="101.4" width="9.8" height="7.4" fill="none" stroke="#435a80" stroke-width="1.15"/><line x1="398" y1="107" x2="407.8" y2="107" stroke="#435a80" stroke-width="1.15"/><circle cx="402.9" cy="102.6" r="1.1" fill="#22395a"/><circle cx="400.9" cy="104.5" r="1.1" fill="#22395a"/><circle cx="404.9" cy="104.5" r="1.1" fill="#22395a"/><circle cx="402.9" cy="107.8" r="1.1" fill="#22395a"/><circle cx="402.9" cy="110" r="1.1" fill="#22395a"/><circle cx="402.9" cy="92.5" r="1.1" fill="#22395a"/><circle cx="402.9" cy="113.3" r="1.1" fill="#22395a"/></g>
<g><line x1="423.8" y1="40.7" x2="423.8" y2="59.4" stroke="#7c3646" stroke-width="1.0"/><line x1="423.8" y1="74" x2="423.8" y2="80.6" stroke="#7c3646" stroke-width="1.0"/><line x1="421" y1="40.7" x2="426.6" y2="40.7" stroke="#7c3646" stroke-width="1.2"/><line x1="421" y1="80.6" x2="426.6" y2="80.6" stroke="#7c3646" stroke-width="1.2"/><rect x="418.9" y="59.4" width="9.8" height="14.6" fill="none" stroke="#ad2a4a" stroke-width="1.15"/><line x1="418.9" y1="64.5" x2="428.7" y2="64.5" stroke="#ad2a4a" stroke-width="1.15"/><circle cx="423.8" cy="58.1" r="1.1" fill="#8f1a33"/><circle cx="423.8" cy="62.3" r="1.1" fill="#8f1a33"/><circle cx="423.8" cy="69.7" r="1.1" fill="#8f1a33"/><circle cx="423.8" cy="73.9" r="1.1" fill="#8f1a33"/><circle cx="423.8" cy="77.2" r="1.1" fill="#8f1a33"/><circle cx="423.8" cy="41" r="1.1" fill="#8f1a33"/><circle cx="423.8" cy="80.3" r="1.1" fill="#8f1a33"/></g>
<g><line x1="434.5" y1="34.3" x2="434.5" y2="43.2" stroke="#484e5a" stroke-width="1.0"/><line x1="434.5" y1="69" x2="434.5" y2="80" stroke="#484e5a" stroke-width="1.0"/><line x1="431.7" y1="34.3" x2="437.3" y2="34.3" stroke="#484e5a" stroke-width="1.2"/><line x1="431.7" y1="80" x2="437.3" y2="80" stroke="#484e5a" stroke-width="1.2"/><rect x="429.6" y="43.2" width="9.8" height="25.8" fill="none" stroke="#435a80" stroke-width="1.15"/><line x1="429.6" y1="56.7" x2="439.4" y2="56.7" stroke="#435a80" stroke-width="1.15"/><circle cx="434.5" cy="41.6" r="1.1" fill="#22395a"/><circle cx="434.5" cy="60.6" r="1.1" fill="#22395a"/><circle cx="434.5" cy="68" r="1.1" fill="#22395a"/><circle cx="434.5" cy="34.6" r="1.1" fill="#22395a"/><circle cx="434.5" cy="79.7" r="1.1" fill="#22395a"/></g>
<g><line x1="460.3" y1="86.3" x2="460.3" y2="102.5" stroke="#7c3646" stroke-width="1.0"/><line x1="460.3" y1="111.8" x2="460.3" y2="112.5" stroke="#7c3646" stroke-width="1.0"/><line x1="457.5" y1="86.3" x2="463.1" y2="86.3" stroke="#7c3646" stroke-width="1.2"/><line x1="457.5" y1="112.5" x2="463.1" y2="112.5" stroke="#7c3646" stroke-width="1.2"/><rect x="455.4" y="102.5" width="9.8" height="9.3" fill="none" stroke="#ad2a4a" stroke-width="1.15"/><line x1="455.4" y1="107" x2="465.2" y2="107" stroke="#ad2a4a" stroke-width="1.15"/><circle cx="460.3" cy="100.5" r="1.1" fill="#8f1a33"/><circle cx="459.3" cy="104" r="1.1" fill="#8f1a33"/><circle cx="461.3" cy="105.5" r="1.1" fill="#8f1a33"/><circle cx="458.3" cy="108" r="1.1" fill="#8f1a33"/><circle cx="462.3" cy="108" r="1.1" fill="#8f1a33"/><circle cx="460.3" cy="110.2" r="1.1" fill="#8f1a33"/><circle cx="459.3" cy="112" r="1.1" fill="#8f1a33"/><circle cx="461.3" cy="112.3" r="1.1" fill="#8f1a33"/><circle cx="460.3" cy="86.6" r="1.1" fill="#8f1a33"/><circle cx="460.3" cy="112.2" r="1.1" fill="#8f1a33"/></g>
<g><line x1="471" y1="69.8" x2="471" y2="95.5" stroke="#484e5a" stroke-width="1.0"/><line x1="471" y1="112" x2="471" y2="113.5" stroke="#484e5a" stroke-width="1.0"/><line x1="468.2" y1="69.8" x2="473.8" y2="69.8" stroke="#484e5a" stroke-width="1.2"/><line x1="468.2" y1="113.5" x2="473.8" y2="113.5" stroke="#484e5a" stroke-width="1.2"/><rect x="466.1" y="95.5" width="9.8" height="16.5" fill="none" stroke="#435a80" stroke-width="1.15"/><line x1="466.1" y1="103.4" x2="475.9" y2="103.4" stroke="#435a80" stroke-width="1.15"/><circle cx="470" cy="100.5" r="1.1" fill="#22395a"/><circle cx="472" cy="99.5" r="1.1" fill="#22395a"/><circle cx="471" cy="108.1" r="1.1" fill="#22395a"/><circle cx="470" cy="112.5" r="1.1" fill="#22395a"/><circle cx="472" cy="113" r="1.1" fill="#22395a"/><circle cx="471" cy="70.1" r="1.1" fill="#22395a"/><circle cx="471" cy="113.2" r="1.1" fill="#22395a"/></g>
<g><line x1="491.9" y1="57" x2="491.9" y2="75.4" stroke="#7c3646" stroke-width="1.0"/><line x1="491.9" y1="86.2" x2="491.9" y2="95.8" stroke="#7c3646" stroke-width="1.0"/><line x1="489.1" y1="57" x2="494.7" y2="57" stroke="#7c3646" stroke-width="1.2"/><line x1="489.1" y1="95.8" x2="494.7" y2="95.8" stroke="#7c3646" stroke-width="1.2"/><rect x="487" y="75.4" width="9.8" height="10.8" fill="none" stroke="#ad2a4a" stroke-width="1.15"/><line x1="487" y1="80.8" x2="496.8" y2="80.8" stroke="#ad2a4a" stroke-width="1.15"/><circle cx="489.9" cy="77" r="1.1" fill="#8f1a33"/><circle cx="491.9" cy="78" r="1.1" fill="#8f1a33"/><circle cx="493.9" cy="77" r="1.1" fill="#8f1a33"/><circle cx="489.9" cy="83" r="1.1" fill="#8f1a33"/><circle cx="491.9" cy="84" r="1.1" fill="#8f1a33"/><circle cx="493.9" cy="83" r="1.1" fill="#8f1a33"/><circle cx="491.9" cy="80.7" r="1.1" fill="#8f1a33"/><circle cx="491.9" cy="57.3" r="1.1" fill="#8f1a33"/><circle cx="491.9" cy="95.5" r="1.1" fill="#8f1a33"/></g>
<g><line x1="502.5" y1="41" x2="502.5" y2="54" stroke="#484e5a" stroke-width="1.0"/><line x1="502.5" y1="99" x2="502.5" y2="106.3" stroke="#484e5a" stroke-width="1.0"/><line x1="499.7" y1="41" x2="505.3" y2="41" stroke="#484e5a" stroke-width="1.2"/><line x1="499.7" y1="106.3" x2="505.3" y2="106.3" stroke="#484e5a" stroke-width="1.2"/><rect x="497.6" y="54" width="9.8" height="45" fill="none" stroke="#435a80" stroke-width="1.15"/><line x1="497.6" y1="93" x2="507.4" y2="93" stroke="#435a80" stroke-width="1.15"/><circle cx="502.5" cy="61.8" r="1.1" fill="#22395a"/><circle cx="502.5" cy="67.2" r="1.1" fill="#22395a"/><circle cx="502.5" cy="92.5" r="1.1" fill="#22395a"/><circle cx="501.5" cy="97.5" r="1.1" fill="#22395a"/><circle cx="503.5" cy="98" r="1.1" fill="#22395a"/><circle cx="502.5" cy="41.3" r="1.1" fill="#22395a"/><circle cx="502.5" cy="106" r="1.1" fill="#22395a"/></g>
<g><line x1="50.5" y1="259.9" x2="50.5" y2="266.8" stroke="#7c3646" stroke-width="1.0"/><line x1="50.5" y1="283" x2="50.5" y2="286.9" stroke="#7c3646" stroke-width="1.0"/><line x1="47.7" y1="259.9" x2="53.3" y2="259.9" stroke="#7c3646" stroke-width="1.2"/><line x1="47.7" y1="286.9" x2="53.3" y2="286.9" stroke="#7c3646" stroke-width="1.2"/><rect x="45.6" y="266.8" width="9.8" height="16.2" fill="none" stroke="#ad2a4a" stroke-width="1.15"/><line x1="45.6" y1="279" x2="55.4" y2="279" stroke="#ad2a4a" stroke-width="1.15"/><circle cx="50.5" cy="261.6" r="1.1" fill="#8f1a33"/><circle cx="50.5" cy="271.2" r="1.1" fill="#8f1a33"/><circle cx="50.5" cy="274.6" r="1.1" fill="#8f1a33"/><circle cx="49.5" cy="280.5" r="1.1" fill="#8f1a33"/><circle cx="51.5" cy="284.3" r="1.1" fill="#8f1a33"/><circle cx="49.5" cy="286.5" r="1.1" fill="#8f1a33"/><circle cx="50.5" cy="260.2" r="1.1" fill="#8f1a33"/><circle cx="50.5" cy="286.6" r="1.1" fill="#8f1a33"/></g>
<g><line x1="61.3" y1="266.8" x2="61.3" y2="271.2" stroke="#484e5a" stroke-width="1.0"/><line x1="61.3" y1="282.1" x2="61.3" y2="286.3" stroke="#484e5a" stroke-width="1.0"/><line x1="58.5" y1="266.8" x2="64.1" y2="266.8" stroke="#484e5a" stroke-width="1.2"/><line x1="58.5" y1="286.3" x2="64.1" y2="286.3" stroke="#484e5a" stroke-width="1.2"/><rect x="56.4" y="271.2" width="9.8" height="10.9" fill="none" stroke="#435a80" stroke-width="1.15"/><line x1="56.4" y1="276.5" x2="66.2" y2="276.5" stroke="#435a80" stroke-width="1.15"/><circle cx="59.3" cy="275" r="1.1" fill="#22395a"/><circle cx="61.3" cy="276.5" r="1.1" fill="#22395a"/><circle cx="63.3" cy="277.5" r="1.1" fill="#22395a"/><circle cx="61.3" cy="282.5" r="1.1" fill="#22395a"/><circle cx="60.3" cy="285" r="1.1" fill="#22395a"/><circle cx="62.3" cy="286" r="1.1" fill="#22395a"/><circle cx="61.3" cy="267.1" r="1.1" fill="#22395a"/><circle cx="61.3" cy="286" r="1.1" fill="#22395a"/></g>
<g><line x1="81.9" y1="247.2" x2="81.9" y2="256.1" stroke="#7c3646" stroke-width="1.0"/><line x1="81.9" y1="270.5" x2="81.9" y2="271.2" stroke="#7c3646" stroke-width="1.0"/><line x1="79.1" y1="247.2" x2="84.7" y2="247.2" stroke="#7c3646" stroke-width="1.2"/><line x1="79.1" y1="271.2" x2="84.7" y2="271.2" stroke="#7c3646" stroke-width="1.2"/><rect x="77" y="256.1" width="9.8" height="14.4" fill="none" stroke="#ad2a4a" stroke-width="1.15"/><line x1="77" y1="268.5" x2="86.8" y2="268.5" stroke="#ad2a4a" stroke-width="1.15"/><circle cx="78.9" cy="268" r="1.1" fill="#8f1a33"/><circle cx="80.9" cy="269.5" r="1.1" fill="#8f1a33"/><circle cx="82.9" cy="270.5" r="1.1" fill="#8f1a33"/><circle cx="84.9" cy="269" r="1.1" fill="#8f1a33"/><circle cx="79.9" cy="271.5" r="1.1" fill="#8f1a33"/><circle cx="83.9" cy="271.5" r="1.1" fill="#8f1a33"/><circle cx="81.9" cy="272" r="1.1" fill="#8f1a33"/><circle cx="81.9" cy="247.5" r="1.1" fill="#8f1a33"/><circle cx="81.9" cy="270.9" r="1.1" fill="#8f1a33"/></g>
<g><line x1="92.3" y1="217.5" x2="92.3" y2="251.5" stroke="#484e5a" stroke-width="1.0"/><line x1="92.3" y1="268" x2="92.3" y2="272.5" stroke="#484e5a" stroke-width="1.0"/><line x1="89.5" y1="217.5" x2="95.1" y2="217.5" stroke="#484e5a" stroke-width="1.2"/><line x1="89.5" y1="272.5" x2="95.1" y2="272.5" stroke="#484e5a" stroke-width="1.2"/><rect x="87.4" y="251.5" width="9.8" height="16.5" fill="none" stroke="#435a80" stroke-width="1.15"/><line x1="87.4" y1="262" x2="97.2" y2="262" stroke="#435a80" stroke-width="1.15"/><circle cx="92.3" cy="253.9" r="1.1" fill="#22395a"/><circle cx="92.3" cy="265.3" r="1.1" fill="#22395a"/><circle cx="92.3" cy="271.2" r="1.1" fill="#22395a"/><circle cx="92.3" cy="217.8" r="1.1" fill="#22395a"/><circle cx="92.3" cy="272.2" r="1.1" fill="#22395a"/></g>
<g><line x1="118.5" y1="273.1" x2="118.5" y2="280.4" stroke="#7c3646" stroke-width="1.0"/><line x1="118.5" y1="288.8" x2="118.5" y2="289" stroke="#7c3646" stroke-width="1.0"/><line x1="115.7" y1="273.1" x2="121.3" y2="273.1" stroke="#7c3646" stroke-width="1.2"/><line x1="115.7" y1="289" x2="121.3" y2="289" stroke="#7c3646" stroke-width="1.2"/><rect x="113.6" y="280.4" width="9.8" height="8.4" fill="none" stroke="#ad2a4a" stroke-width="1.15"/><line x1="113.6" y1="284.4" x2="123.4" y2="284.4" stroke="#ad2a4a" stroke-width="1.15"/><circle cx="115.5" cy="284" r="1.1" fill="#8f1a33"/><circle cx="117.5" cy="285.5" r="1.1" fill="#8f1a33"/><circle cx="119.5" cy="284" r="1.1" fill="#8f1a33"/><circle cx="121.5" cy="285.5" r="1.1" fill="#8f1a33"/><circle cx="116.5" cy="287.5" r="1.1" fill="#8f1a33"/><circle cx="120.5" cy="287.5" r="1.1" fill="#8f1a33"/><circle cx="118.5" cy="282" r="1.1" fill="#8f1a33"/><circle cx="118.5" cy="273.4" r="1.1" fill="#8f1a33"/><circle cx="118.5" cy="288.7" r="1.1" fill="#8f1a33"/></g>
<g><line x1="128.8" y1="267.2" x2="128.8" y2="274.5" stroke="#484e5a" stroke-width="1.0"/><line x1="128.8" y1="283.5" x2="128.8" y2="288.8" stroke="#484e5a" stroke-width="1.0"/><line x1="126" y1="267.2" x2="131.6" y2="267.2" stroke="#484e5a" stroke-width="1.2"/><line x1="126" y1="288.8" x2="131.6" y2="288.8" stroke="#484e5a" stroke-width="1.2"/><rect x="123.9" y="274.5" width="9.8" height="9" fill="none" stroke="#435a80" stroke-width="1.15"/><line x1="123.9" y1="279.4" x2="133.7" y2="279.4" stroke="#435a80" stroke-width="1.15"/><circle cx="128.8" cy="276.3" r="1.1" fill="#22395a"/><circle cx="128.8" cy="280.5" r="1.1" fill="#22395a"/><circle cx="130.8" cy="275" r="1.1" fill="#22395a"/><circle cx="128.8" cy="267.5" r="1.1" fill="#22395a"/><circle cx="128.8" cy="288.5" r="1.1" fill="#22395a"/></g>
<g><line x1="149.8" y1="255.4" x2="149.8" y2="266.2" stroke="#7c3646" stroke-width="1.0"/><line x1="149.8" y1="279" x2="149.8" y2="282.5" stroke="#7c3646" stroke-width="1.0"/><line x1="147" y1="255.4" x2="152.6" y2="255.4" stroke="#7c3646" stroke-width="1.2"/><line x1="147" y1="282.5" x2="152.6" y2="282.5" stroke="#7c3646" stroke-width="1.2"/><rect x="144.9" y="266.2" width="9.8" height="12.8" fill="none" stroke="#ad2a4a" stroke-width="1.15"/><line x1="144.9" y1="276.3" x2="154.7" y2="276.3" stroke="#ad2a4a" stroke-width="1.15"/><circle cx="149.8" cy="269" r="1.1" fill="#8f1a33"/><circle cx="147.8" cy="275" r="1.1" fill="#8f1a33"/><circle cx="150.8" cy="276.5" r="1.1" fill="#8f1a33"/><circle cx="152.8" cy="278" r="1.1" fill="#8f1a33"/><circle cx="148.8" cy="280" r="1.1" fill="#8f1a33"/><circle cx="150.8" cy="281" r="1.1" fill="#8f1a33"/><circle cx="149.8" cy="255.7" r="1.1" fill="#8f1a33"/><circle cx="149.8" cy="282.2" r="1.1" fill="#8f1a33"/></g>
<g><line x1="160.4" y1="247.2" x2="160.4" y2="260.3" stroke="#484e5a" stroke-width="1.0"/><line x1="160.4" y1="284.9" x2="160.4" y2="288" stroke="#484e5a" stroke-width="1.0"/><line x1="157.6" y1="247.2" x2="163.2" y2="247.2" stroke="#484e5a" stroke-width="1.2"/><line x1="157.6" y1="288" x2="163.2" y2="288" stroke="#484e5a" stroke-width="1.2"/><rect x="155.5" y="260.3" width="9.8" height="24.6" fill="none" stroke="#435a80" stroke-width="1.15"/><line x1="155.5" y1="266.9" x2="165.3" y2="266.9" stroke="#435a80" stroke-width="1.15"/><circle cx="161.4" cy="263" r="1.1" fill="#22395a"/><circle cx="159.4" cy="264.5" r="1.1" fill="#22395a"/><circle cx="161.4" cy="266" r="1.1" fill="#22395a"/><circle cx="158.4" cy="286" r="1.1" fill="#22395a"/><circle cx="160.4" cy="287" r="1.1" fill="#22395a"/><circle cx="162.4" cy="286" r="1.1" fill="#22395a"/><circle cx="160.4" cy="247.5" r="1.1" fill="#22395a"/><circle cx="160.4" cy="287.7" r="1.1" fill="#22395a"/></g>
<g><line x1="224.5" y1="264.8" x2="224.5" y2="270.8" stroke="#7c3646" stroke-width="1.0"/><line x1="224.5" y1="281.5" x2="224.5" y2="286.3" stroke="#7c3646" stroke-width="1.0"/><line x1="221.7" y1="264.8" x2="227.3" y2="264.8" stroke="#7c3646" stroke-width="1.2"/><line x1="221.7" y1="286.3" x2="227.3" y2="286.3" stroke="#7c3646" stroke-width="1.2"/><rect x="219.6" y="270.8" width="9.8" height="10.7" fill="none" stroke="#ad2a4a" stroke-width="1.15"/><line x1="219.6" y1="279.4" x2="229.4" y2="279.4" stroke="#ad2a4a" stroke-width="1.15"/><circle cx="224.5" cy="265" r="1.1" fill="#8f1a33"/><circle cx="222.5" cy="272.3" r="1.1" fill="#8f1a33"/><circle cx="224.5" cy="273.5" r="1.1" fill="#8f1a33"/><circle cx="226.5" cy="272.3" r="1.1" fill="#8f1a33"/><circle cx="222.5" cy="277" r="1.1" fill="#8f1a33"/><circle cx="226.5" cy="277" r="1.1" fill="#8f1a33"/><circle cx="224.5" cy="280" r="1.1" fill="#8f1a33"/><circle cx="222.5" cy="281.5" r="1.1" fill="#8f1a33"/><circle cx="226.5" cy="281.5" r="1.1" fill="#8f1a33"/><circle cx="224.5" cy="285" r="1.1" fill="#8f1a33"/><circle cx="224.5" cy="265.1" r="1.1" fill="#8f1a33"/><circle cx="224.5" cy="286" r="1.1" fill="#8f1a33"/></g>
<g><line x1="234.9" y1="240.4" x2="234.9" y2="250.5" stroke="#484e5a" stroke-width="1.0"/><line x1="234.9" y1="280.8" x2="234.9" y2="283.8" stroke="#484e5a" stroke-width="1.0"/><line x1="232.1" y1="240.4" x2="237.7" y2="240.4" stroke="#484e5a" stroke-width="1.2"/><line x1="232.1" y1="283.8" x2="237.7" y2="283.8" stroke="#484e5a" stroke-width="1.2"/><rect x="230" y="250.5" width="9.8" height="30.3" fill="none" stroke="#435a80" stroke-width="1.15"/><line x1="230" y1="275.7" x2="239.8" y2="275.7" stroke="#435a80" stroke-width="1.15"/><circle cx="234.9" cy="255.4" r="1.1" fill="#22395a"/><circle cx="232.9" cy="275.5" r="1.1" fill="#22395a"/><circle cx="234.9" cy="277" r="1.1" fill="#22395a"/><circle cx="236.9" cy="275.5" r="1.1" fill="#22395a"/><circle cx="233.9" cy="282" r="1.1" fill="#22395a"/><circle cx="235.9" cy="283.5" r="1.1" fill="#22395a"/><circle cx="234.9" cy="240.7" r="1.1" fill="#22395a"/><circle cx="234.9" cy="283.5" r="1.1" fill="#22395a"/></g>
<g><line x1="254.8" y1="235.6" x2="254.8" y2="245.4" stroke="#7c3646" stroke-width="1.0"/><line x1="254.8" y1="262.4" x2="254.8" y2="271.9" stroke="#7c3646" stroke-width="1.0"/><line x1="252" y1="235.6" x2="257.6" y2="235.6" stroke="#7c3646" stroke-width="1.2"/><line x1="252" y1="271.9" x2="257.6" y2="271.9" stroke="#7c3646" stroke-width="1.2"/><rect x="249.9" y="245.4" width="9.8" height="17" fill="none" stroke="#ad2a4a" stroke-width="1.15"/><line x1="249.9" y1="251.6" x2="259.7" y2="251.6" stroke="#ad2a4a" stroke-width="1.15"/><circle cx="254.8" cy="237" r="1.1" fill="#8f1a33"/><circle cx="254.8" cy="241" r="1.1" fill="#8f1a33"/><circle cx="252.8" cy="246.5" r="1.1" fill="#8f1a33"/><circle cx="256.8" cy="246.5" r="1.1" fill="#8f1a33"/><circle cx="252.8" cy="251" r="1.1" fill="#8f1a33"/><circle cx="256.8" cy="251" r="1.1" fill="#8f1a33"/><circle cx="254.8" cy="252.5" r="1.1" fill="#8f1a33"/><circle cx="254.8" cy="262" r="1.1" fill="#8f1a33"/><circle cx="254.8" cy="235.9" r="1.1" fill="#8f1a33"/><circle cx="254.8" cy="271.6" r="1.1" fill="#8f1a33"/></g>
<g><line x1="265.3" y1="206.9" x2="265.3" y2="234.8" stroke="#484e5a" stroke-width="1.0"/><line x1="265.3" y1="265" x2="265.3" y2="268.1" stroke="#484e5a" stroke-width="1.0"/><line x1="262.5" y1="206.9" x2="268.1" y2="206.9" stroke="#484e5a" stroke-width="1.2"/><line x1="262.5" y1="268.1" x2="268.1" y2="268.1" stroke="#484e5a" stroke-width="1.2"/><rect x="260.4" y="234.8" width="9.8" height="30.2" fill="none" stroke="#435a80" stroke-width="1.15"/><line x1="260.4" y1="251.6" x2="270.2" y2="251.6" stroke="#435a80" stroke-width="1.15"/><circle cx="265.3" cy="227.2" r="1.1" fill="#22395a"/><circle cx="265.3" cy="239.4" r="1.1" fill="#22395a"/><circle cx="265.3" cy="243.6" r="1.1" fill="#22395a"/><circle cx="263.3" cy="251.5" r="1.1" fill="#22395a"/><circle cx="267.3" cy="251" r="1.1" fill="#22395a"/><circle cx="265.3" cy="252.5" r="1.1" fill="#22395a"/><circle cx="264.3" cy="266" r="1.1" fill="#22395a"/><circle cx="266.3" cy="267" r="1.1" fill="#22395a"/><circle cx="265.3" cy="207.2" r="1.1" fill="#22395a"/><circle cx="265.3" cy="267.8" r="1.1" fill="#22395a"/></g>
<g><line x1="290" y1="253.2" x2="290" y2="261.1" stroke="#7c3646" stroke-width="1.0"/><line x1="290" y1="286.8" x2="290" y2="287" stroke="#7c3646" stroke-width="1.0"/><line x1="287.2" y1="253.2" x2="292.8" y2="253.2" stroke="#7c3646" stroke-width="1.2"/><line x1="287.2" y1="287" x2="292.8" y2="287" stroke="#7c3646" stroke-width="1.2"/><rect x="285.1" y="261.1" width="9.8" height="25.7" fill="none" stroke="#ad2a4a" stroke-width="1.15"/><line x1="285.1" y1="275.3" x2="294.9" y2="275.3" stroke="#ad2a4a" stroke-width="1.15"/><circle cx="290" cy="256.3" r="1.1" fill="#8f1a33"/><circle cx="289" cy="264.4" r="1.1" fill="#8f1a33"/><circle cx="291" cy="264.4" r="1.1" fill="#8f1a33"/><circle cx="290" cy="275.2" r="1.1" fill="#8f1a33"/><circle cx="288" cy="286.5" r="1.1" fill="#8f1a33"/><circle cx="290" cy="287" r="1.1" fill="#8f1a33"/><circle cx="292" cy="286.5" r="1.1" fill="#8f1a33"/><circle cx="290" cy="253.5" r="1.1" fill="#8f1a33"/><circle cx="290" cy="286.7" r="1.1" fill="#8f1a33"/></g>
<g><line x1="300.6" y1="217.5" x2="300.6" y2="259" stroke="#484e5a" stroke-width="1.0"/><line x1="300.6" y1="284.5" x2="300.6" y2="287.5" stroke="#484e5a" stroke-width="1.0"/><line x1="297.8" y1="217.5" x2="303.4" y2="217.5" stroke="#484e5a" stroke-width="1.2"/><line x1="297.8" y1="287.5" x2="303.4" y2="287.5" stroke="#484e5a" stroke-width="1.2"/><rect x="295.7" y="259" width="9.8" height="25.5" fill="none" stroke="#435a80" stroke-width="1.15"/><line x1="295.7" y1="268" x2="305.5" y2="268" stroke="#435a80" stroke-width="1.15"/><circle cx="300.6" cy="251.5" r="1.1" fill="#22395a"/><circle cx="298.6" cy="268.5" r="1.1" fill="#22395a"/><circle cx="300.6" cy="266.5" r="1.1" fill="#22395a"/><circle cx="302.6" cy="268" r="1.1" fill="#22395a"/><circle cx="300.6" cy="285" r="1.1" fill="#22395a"/><circle cx="300.6" cy="217.8" r="1.1" fill="#22395a"/><circle cx="300.6" cy="287.2" r="1.1" fill="#22395a"/></g>
<g><line x1="320.6" y1="238.1" x2="320.6" y2="247.5" stroke="#7c3646" stroke-width="1.0"/><line x1="320.6" y1="279.4" x2="320.6" y2="281.9" stroke="#7c3646" stroke-width="1.0"/><line x1="317.8" y1="238.1" x2="323.4" y2="238.1" stroke="#7c3646" stroke-width="1.2"/><line x1="317.8" y1="281.9" x2="323.4" y2="281.9" stroke="#7c3646" stroke-width="1.2"/><rect x="315.7" y="247.5" width="9.8" height="31.9" fill="none" stroke="#ad2a4a" stroke-width="1.15"/><line x1="315.7" y1="272.4" x2="325.5" y2="272.4" stroke="#ad2a4a" stroke-width="1.15"/><circle cx="320.6" cy="240.7" r="1.1" fill="#8f1a33"/><circle cx="320.6" cy="250.4" r="1.1" fill="#8f1a33"/><circle cx="320.6" cy="267.3" r="1.1" fill="#8f1a33"/><circle cx="318.6" cy="279" r="1.1" fill="#8f1a33"/><circle cx="320.6" cy="280.5" r="1.1" fill="#8f1a33"/><circle cx="322.6" cy="279.5" r="1.1" fill="#8f1a33"/><circle cx="319.6" cy="281.5" r="1.1" fill="#8f1a33"/><circle cx="320.6" cy="238.4" r="1.1" fill="#8f1a33"/><circle cx="320.6" cy="281.6" r="1.1" fill="#8f1a33"/></g>
<g><line x1="331.1" y1="224.4" x2="331.1" y2="255.8" stroke="#484e5a" stroke-width="1.0"/><line x1="331.1" y1="286" x2="331.1" y2="286.5" stroke="#484e5a" stroke-width="1.0"/><line x1="328.3" y1="224.4" x2="333.9" y2="224.4" stroke="#484e5a" stroke-width="1.2"/><line x1="328.3" y1="286.5" x2="333.9" y2="286.5" stroke="#484e5a" stroke-width="1.2"/><rect x="326.2" y="255.8" width="9.8" height="30.2" fill="none" stroke="#435a80" stroke-width="1.15"/><line x1="326.2" y1="269.6" x2="336" y2="269.6" stroke="#435a80" stroke-width="1.15"/><circle cx="330.1" cy="261" r="1.1" fill="#22395a"/><circle cx="332.1" cy="262.7" r="1.1" fill="#22395a"/><circle cx="331.1" cy="285" r="1.1" fill="#22395a"/><circle cx="329.1" cy="285.5" r="1.1" fill="#22395a"/><circle cx="333.1" cy="285.5" r="1.1" fill="#22395a"/><circle cx="331.1" cy="224.7" r="1.1" fill="#22395a"/><circle cx="331.1" cy="286.2" r="1.1" fill="#22395a"/></g>
<g><line x1="392.2" y1="217.3" x2="392.2" y2="246.9" stroke="#7c3646" stroke-width="1.0"/><line x1="392.2" y1="268.5" x2="392.2" y2="271.3" stroke="#7c3646" stroke-width="1.0"/><line x1="389.4" y1="217.3" x2="395" y2="217.3" stroke="#7c3646" stroke-width="1.2"/><line x1="389.4" y1="271.3" x2="395" y2="271.3" stroke="#7c3646" stroke-width="1.2"/><rect x="387.3" y="246.9" width="9.8" height="21.6" fill="none" stroke="#ad2a4a" stroke-width="1.15"/><line x1="387.3" y1="260.5" x2="397.1" y2="260.5" stroke="#ad2a4a" stroke-width="1.15"/><circle cx="392.2" cy="236" r="1.1" fill="#8f1a33"/><circle cx="392.2" cy="250.4" r="1.1" fill="#8f1a33"/><circle cx="392.2" cy="257.1" r="1.1" fill="#8f1a33"/><circle cx="393.2" cy="259.6" r="1.1" fill="#8f1a33"/><circle cx="391.2" cy="261.3" r="1.1" fill="#8f1a33"/><circle cx="392.2" cy="267.3" r="1.1" fill="#8f1a33"/><circle cx="392.2" cy="270.5" r="1.1" fill="#8f1a33"/><circle cx="392.2" cy="217.6" r="1.1" fill="#8f1a33"/><circle cx="392.2" cy="271" r="1.1" fill="#8f1a33"/></g>
<g><line x1="402.9" y1="203.4" x2="402.9" y2="241.9" stroke="#484e5a" stroke-width="1.0"/><line x1="402.9" y1="271.8" x2="402.9" y2="276.9" stroke="#484e5a" stroke-width="1.0"/><line x1="400.1" y1="203.4" x2="405.7" y2="203.4" stroke="#484e5a" stroke-width="1.2"/><line x1="400.1" y1="276.9" x2="405.7" y2="276.9" stroke="#484e5a" stroke-width="1.2"/><rect x="398" y="241.9" width="9.8" height="29.9" fill="none" stroke="#435a80" stroke-width="1.15"/><line x1="398" y1="263.3" x2="407.8" y2="263.3" stroke="#435a80" stroke-width="1.15"/><circle cx="402.9" cy="230.5" r="1.1" fill="#22395a"/><circle cx="402.9" cy="252.6" r="1.1" fill="#22395a"/><circle cx="402.9" cy="257.6" r="1.1" fill="#22395a"/><circle cx="402.9" cy="266" r="1.1" fill="#22395a"/><circle cx="402.9" cy="271.5" r="1.1" fill="#22395a"/><circle cx="402.9" cy="203.7" r="1.1" fill="#22395a"/><circle cx="402.9" cy="276.6" r="1.1" fill="#22395a"/></g>
<g><line x1="423.6" y1="259.8" x2="423.6" y2="270.6" stroke="#7c3646" stroke-width="1.0"/><line x1="423.6" y1="278.3" x2="423.6" y2="283.1" stroke="#7c3646" stroke-width="1.0"/><line x1="420.8" y1="259.8" x2="426.4" y2="259.8" stroke="#7c3646" stroke-width="1.2"/><line x1="420.8" y1="283.1" x2="426.4" y2="283.1" stroke="#7c3646" stroke-width="1.2"/><rect x="418.7" y="270.6" width="9.8" height="7.7" fill="none" stroke="#ad2a4a" stroke-width="1.15"/><line x1="418.7" y1="275" x2="428.5" y2="275" stroke="#ad2a4a" stroke-width="1.15"/><circle cx="423.6" cy="264" r="1.1" fill="#8f1a33"/><circle cx="420.6" cy="272" r="1.1" fill="#8f1a33"/><circle cx="422.6" cy="273.5" r="1.1" fill="#8f1a33"/><circle cx="424.6" cy="275" r="1.1" fill="#8f1a33"/><circle cx="426.6" cy="273" r="1.1" fill="#8f1a33"/><circle cx="421.6" cy="276.5" r="1.1" fill="#8f1a33"/><circle cx="425.6" cy="277" r="1.1" fill="#8f1a33"/><circle cx="423.6" cy="280" r="1.1" fill="#8f1a33"/><circle cx="423.6" cy="260.1" r="1.1" fill="#8f1a33"/><circle cx="423.6" cy="282.8" r="1.1" fill="#8f1a33"/></g>
<g><line x1="434.4" y1="262.5" x2="434.4" y2="265.6" stroke="#484e5a" stroke-width="1.0"/><line x1="434.4" y1="276.2" x2="434.4" y2="285.6" stroke="#484e5a" stroke-width="1.0"/><line x1="431.6" y1="262.5" x2="437.2" y2="262.5" stroke="#484e5a" stroke-width="1.2"/><line x1="431.6" y1="285.6" x2="437.2" y2="285.6" stroke="#484e5a" stroke-width="1.2"/><rect x="429.5" y="265.6" width="9.8" height="10.6" fill="none" stroke="#435a80" stroke-width="1.15"/><line x1="429.5" y1="271" x2="439.3" y2="271" stroke="#435a80" stroke-width="1.15"/><circle cx="434.4" cy="263" r="1.1" fill="#22395a"/><circle cx="432.4" cy="266" r="1.1" fill="#22395a"/><circle cx="434.4" cy="267.5" r="1.1" fill="#22395a"/><circle cx="436.4" cy="269" r="1.1" fill="#22395a"/><circle cx="434.4" cy="272.3" r="1.1" fill="#22395a"/><circle cx="434.4" cy="277" r="1.1" fill="#22395a"/><circle cx="434.4" cy="262.8" r="1.1" fill="#22395a"/><circle cx="434.4" cy="285.3" r="1.1" fill="#22395a"/></g>
<g><line x1="460.2" y1="259.1" x2="460.2" y2="262.7" stroke="#7c3646" stroke-width="1.0"/><line x1="460.2" y1="281.7" x2="460.2" y2="288.5" stroke="#7c3646" stroke-width="1.0"/><line x1="457.4" y1="259.1" x2="463" y2="259.1" stroke="#7c3646" stroke-width="1.2"/><line x1="457.4" y1="288.5" x2="463" y2="288.5" stroke="#7c3646" stroke-width="1.2"/><rect x="455.3" y="262.7" width="9.8" height="19" fill="none" stroke="#ad2a4a" stroke-width="1.15"/><line x1="455.3" y1="276.7" x2="465.1" y2="276.7" stroke="#ad2a4a" stroke-width="1.15"/><circle cx="460.2" cy="260" r="1.1" fill="#8f1a33"/><circle cx="459.2" cy="262" r="1.1" fill="#8f1a33"/><circle cx="460.2" cy="269" r="1.1" fill="#8f1a33"/><circle cx="459.2" cy="280.3" r="1.1" fill="#8f1a33"/><circle cx="461.2" cy="281" r="1.1" fill="#8f1a33"/><circle cx="460.2" cy="285" r="1.1" fill="#8f1a33"/><circle cx="460.2" cy="259.4" r="1.1" fill="#8f1a33"/><circle cx="460.2" cy="288.2" r="1.1" fill="#8f1a33"/></g>
<g><line x1="470.8" y1="228.1" x2="470.8" y2="255.3" stroke="#484e5a" stroke-width="1.0"/><line x1="470.8" y1="280.6" x2="470.8" y2="281.3" stroke="#484e5a" stroke-width="1.0"/><line x1="468" y1="228.1" x2="473.6" y2="228.1" stroke="#484e5a" stroke-width="1.2"/><line x1="468" y1="281.3" x2="473.6" y2="281.3" stroke="#484e5a" stroke-width="1.2"/><rect x="465.9" y="255.3" width="9.8" height="25.3" fill="none" stroke="#435a80" stroke-width="1.15"/><line x1="465.9" y1="273.3" x2="475.7" y2="273.3" stroke="#435a80" stroke-width="1.15"/><circle cx="470.8" cy="249.5" r="1.1" fill="#22395a"/><circle cx="470.8" cy="259.6" r="1.1" fill="#22395a"/><circle cx="470.8" cy="264.7" r="1.1" fill="#22395a"/><circle cx="470.8" cy="274.9" r="1.1" fill="#22395a"/><circle cx="469.8" cy="280.5" r="1.1" fill="#22395a"/><circle cx="471.8" cy="281" r="1.1" fill="#22395a"/><circle cx="470.8" cy="228.4" r="1.1" fill="#22395a"/><circle cx="470.8" cy="281" r="1.1" fill="#22395a"/></g>
<g><line x1="491.9" y1="266.8" x2="491.9" y2="273.5" stroke="#7c3646" stroke-width="1.0"/><line x1="491.9" y1="286.5" x2="491.9" y2="287.3" stroke="#7c3646" stroke-width="1.0"/><line x1="489.1" y1="266.8" x2="494.7" y2="266.8" stroke="#7c3646" stroke-width="1.2"/><line x1="489.1" y1="287.3" x2="494.7" y2="287.3" stroke="#7c3646" stroke-width="1.2"/><rect x="487" y="273.5" width="9.8" height="13" fill="none" stroke="#ad2a4a" stroke-width="1.15"/><line x1="487" y1="281.6" x2="496.8" y2="281.6" stroke="#ad2a4a" stroke-width="1.15"/><circle cx="491.9" cy="272.3" r="1.1" fill="#8f1a33"/><circle cx="491.9" cy="279" r="1.1" fill="#8f1a33"/><circle cx="490.9" cy="285" r="1.1" fill="#8f1a33"/><circle cx="492.9" cy="285.5" r="1.1" fill="#8f1a33"/><circle cx="491.9" cy="286.5" r="1.1" fill="#8f1a33"/><circle cx="491.9" cy="267.1" r="1.1" fill="#8f1a33"/><circle cx="491.9" cy="287" r="1.1" fill="#8f1a33"/></g>
<g><line x1="502.4" y1="260.8" x2="502.4" y2="265.6" stroke="#484e5a" stroke-width="1.0"/><line x1="502.4" y1="285.7" x2="502.4" y2="289.4" stroke="#484e5a" stroke-width="1.0"/><line x1="499.6" y1="260.8" x2="505.2" y2="260.8" stroke="#484e5a" stroke-width="1.2"/><line x1="499.6" y1="289.4" x2="505.2" y2="289.4" stroke="#484e5a" stroke-width="1.2"/><rect x="497.5" y="265.6" width="9.8" height="20.1" fill="none" stroke="#435a80" stroke-width="1.15"/><line x1="497.5" y1="274.2" x2="507.3" y2="274.2" stroke="#435a80" stroke-width="1.15"/><circle cx="502.4" cy="263" r="1.1" fill="#22395a"/><circle cx="502.4" cy="267.8" r="1.1" fill="#22395a"/><circle cx="501.4" cy="273.5" r="1.1" fill="#22395a"/><circle cx="503.4" cy="274.5" r="1.1" fill="#22395a"/><circle cx="501.4" cy="280.8" r="1.1" fill="#22395a"/><circle cx="503.4" cy="283" r="1.1" fill="#22395a"/><circle cx="502.4" cy="261.1" r="1.1" fill="#22395a"/><circle cx="502.4" cy="289.1" r="1.1" fill="#22395a"/></g>
<rect x="0" y="0" width="520" height="1.4" fill="#000"/><rect x="0" y="0" width="1.4" height="332" fill="#000"/><rect x="518.5" y="0" width="1.5" height="332" fill="#000"/><rect x="0" y="330.5" width="520" height="1.5" fill="#000"/>
</svg></body></html>
